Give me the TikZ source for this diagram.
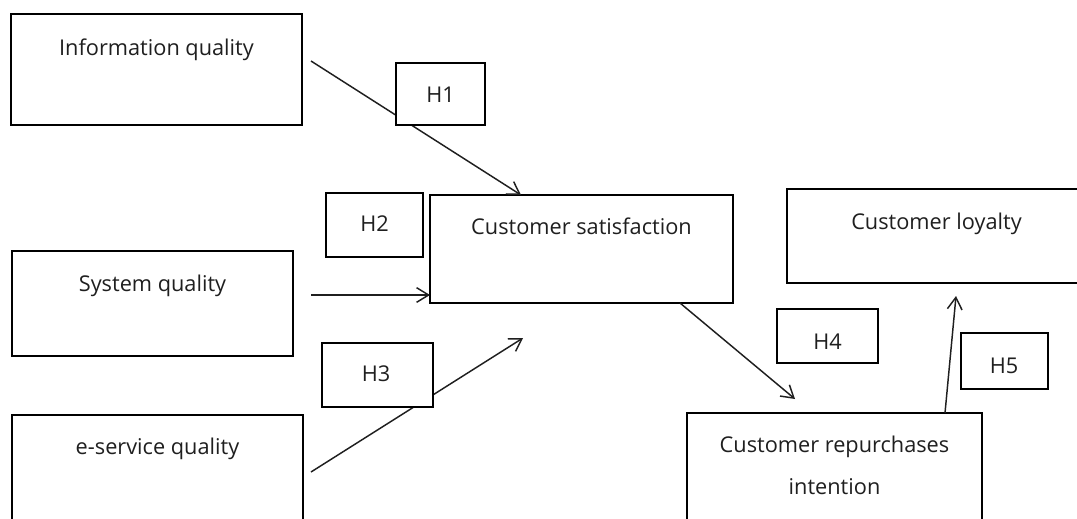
\documentclass[tikz,border=0pt]{standalone}
\usepackage{fontspec}
\setmainfont{Open Sans}
\usetikzlibrary{arrows.meta,calc}
\begin{document}
\begin{tikzpicture}[x=0.75pt,y=-0.75pt,
  box/.style={draw=black,line width=1.2pt,fill=white,inner sep=0pt,outer sep=0pt},
  txt/.style={inner sep=0pt,anchor=base,text=black!88,font=\fontsize{16.3}{20}\selectfont},
  conn/.style={draw=black!88,line width=1.1pt,-{Straight Barb[length=9pt,width=11pt,line width=1.1pt]}}]
\useasboundingbox (0,0) rectangle (1077,518);
\clip (0,0) rectangle (1077,518);
% main boxes
\node[box,minimum width=218.25pt,minimum height=83.25pt] (info) at (156.5,69.5) {};
\node[box,minimum width=210.75pt,minimum height=78.75pt] (sys) at (152.5,303.5) {};
\node[box,minimum width=218.25pt,minimum height=93.75pt] (eserv) at (157.5,477.5) {};
\node[box,minimum width=227.25pt,minimum height=81pt] (cs) at (581.5,249) {};
\node[box,minimum width=224.25pt,minimum height=70.5pt] (loy) at (936.5,236) {};
\node[box,minimum width=221.25pt,minimum height=95.25pt] (cri) at (834.5,476.5) {};
% texts
\node[txt] (info-t) at (156.5,55) {Information quality};
\node[txt] (sys-t) at (152.5,291) {System quality};
\node[txt] (eserv-t) at (157.5,454) {e-service quality};
\node[txt] (cs-t) at (581.5,234) {Customer satisfaction};
\node[txt] (loy-t) at (936.5,229) {Customer loyalty};
\node[txt] (cri-t1) at (834.5,452) {Customer repurchases};
\node[txt] (cri-t2) at (834.5,494) {intention};
% connector end points
\coordinate (a1) at (311,61);
\coordinate (a2) at (311,295);
\coordinate (a3) at (311,472);
\coordinate (b3) at (523,338);
\coordinate (b4) at (795,399);
\coordinate (b5) at (956,296);
% connectors
\draw[conn] (a1) -- ($(cs.north west)+(91,0)$);
\draw[conn] (a2) -- (a2 -| cs.west);
\draw[conn] (a3) -- (b3);
\draw[conn] ($(cs.south west)+(250,0)$) -- (b4);
\draw[conn] ($(cri.north west)+(258,0)$) -- (b5);
% hypothesis boxes
\node[box,minimum width=66.75pt,minimum height=46.5pt] (h1) at (440.5,94) {};
\node[box,minimum width=72.75pt,minimum height=48pt] (h2) at (374.5,225) {};
\node[box,minimum width=83.25pt,minimum height=48pt] (h3) at (377.5,375) {};
\node[box,minimum width=75.75pt,minimum height=40.5pt] (h4) at (827.5,336) {};
\node[box,minimum width=65.25pt,minimum height=42pt] (h5) at (1004.5,361) {};
\node[txt] (h1-t) at (440.5,102) {H1};
\node[txt] (h2-t) at (374.5,231) {H2};
\node[txt] (h3-t) at (376,381) {H3};
\node[txt] (h4-t) at (827.5,349) {H4};
\node[txt] (h5-t) at (1004,373) {H5};
\end{tikzpicture}
\end{document}
